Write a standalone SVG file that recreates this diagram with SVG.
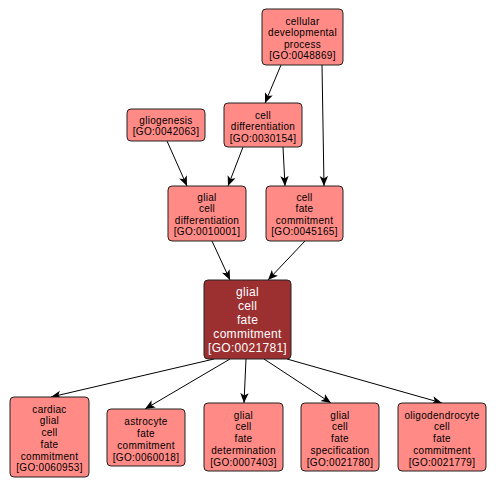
<svg xmlns="http://www.w3.org/2000/svg" width="496" height="487" viewBox="0 0 496 487">
<style>
.n rect{fill:#ff8a86;stroke:#222;stroke-width:1}
.n text{font-family:"Liberation Sans",Arial,sans-serif;font-size:10px;letter-spacing:0.3px;fill:#000;text-anchor:middle}
#gcfc rect{fill:#9c2f30}
#gcfc text{font-size:12px;fill:#fff;letter-spacing:0.3px}
.e line{stroke:#000;stroke-width:1;marker-end:url(#a)}
</style>
<defs>
<marker id="a" markerWidth="10" markerHeight="10" refX="10" refY="5" orient="auto" markerUnits="userSpaceOnUse">
<path d="M0,0.8 L10,5 L0,9.2 L2.5,5 z" fill="#000"/>
</marker>
</defs>
<rect width="496" height="487" fill="#fff"/>
<g id="edges" class="e">
<line x1="281" y1="65" x2="265" y2="103"/>
<line x1="322" y1="65" x2="324" y2="186"/>
<line x1="167" y1="141" x2="187" y2="186"/>
<line x1="243" y1="147" x2="228" y2="186"/>
<line x1="283" y1="147" x2="285" y2="186"/>
<line x1="212" y1="241" x2="230" y2="280"/>
<line x1="305" y1="241" x2="268" y2="280"/>
<line x1="214" y1="359" x2="51" y2="397"/>
<line x1="230" y1="359" x2="145" y2="409"/>
<line x1="246" y1="359" x2="244" y2="403"/>
<line x1="264" y1="359" x2="331" y2="403"/>
<line x1="287" y1="359" x2="442" y2="403"/>
</g>
<g id="cdp" class="n"><rect x="262" y="9" width="81" height="56" rx="4"/>
<text x="302.5" y="24.5">cellular</text><text x="302.5" y="36">developmental</text><text x="302.5" y="47.5">process</text><text x="302.5" y="59">[GO:0048869]</text></g>
<g id="cd" class="n"><rect x="224" y="103" width="78" height="44" rx="4"/>
<text x="263" y="118.5">cell</text><text x="263" y="130">differentiation</text><text x="263" y="141.5">[GO:0030154]</text></g>
<g id="glio" class="n"><rect x="127" y="109" width="78" height="32" rx="4"/>
<text x="166" y="124">gliogenesis</text><text x="166" y="135">[GO:0042063]</text></g>
<g id="gcd" class="n"><rect x="168" y="186" width="78" height="55" rx="4"/>
<text x="207" y="200.5">glial</text><text x="207" y="212">cell</text><text x="207" y="223.5">differentiation</text><text x="207" y="235">[GO:0010001]</text></g>
<g id="cfc" class="n"><rect x="266" y="186" width="77" height="55" rx="4"/>
<text x="304.5" y="200.5">cell</text><text x="304.5" y="212">fate</text><text x="304.5" y="223.5">commitment</text><text x="304.5" y="235">[GO:0045165]</text></g>
<g id="gcfc" class="n"><rect x="204" y="280" width="87" height="79" rx="4"/>
<text x="247.5" y="296">glial</text><text x="247.5" y="310">cell</text><text x="247.5" y="324">fate</text><text x="247.5" y="338">commitment</text><text x="247.5" y="352">[GO:0021781]</text></g>
<g id="cardiac" class="n"><rect x="10" y="397" width="79" height="80" rx="4"/>
<text x="49.5" y="412.5">cardiac</text><text x="49.5" y="424.3">glial</text><text x="49.5" y="436">cell</text><text x="49.5" y="447.8">fate</text><text x="49.5" y="459.6">commitment</text><text x="49.5" y="471.4">[GO:0060953]</text></g>
<g id="astro" class="n"><rect x="107" y="409" width="78" height="57" rx="4"/>
<text x="146" y="425.3">astrocyte</text><text x="146" y="437">fate</text><text x="146" y="448.8">commitment</text><text x="146" y="460.6">[GO:0060018]</text></g>
<g id="det" class="n"><rect x="204" y="403" width="79" height="68" rx="4"/>
<text x="243.5" y="418.5">glial</text><text x="243.5" y="430.3">cell</text><text x="243.5" y="442">fate</text><text x="243.5" y="453.8">determination</text><text x="243.5" y="465.6">[GO:0007403]</text></g>
<g id="spec" class="n"><rect x="301" y="403" width="78" height="68" rx="4"/>
<text x="340" y="418.5">glial</text><text x="340" y="430.3">cell</text><text x="340" y="442">fate</text><text x="340" y="453.8">specification</text><text x="340" y="465.6">[GO:0021780]</text></g>
<g id="oligo" class="n"><rect x="398" y="403" width="88" height="68" rx="4"/>
<text x="442" y="418.5">oligodendrocyte</text><text x="442" y="430.3">cell</text><text x="442" y="442">fate</text><text x="442" y="453.8">commitment</text><text x="442" y="465.6">[GO:0021779]</text></g>
</svg>
